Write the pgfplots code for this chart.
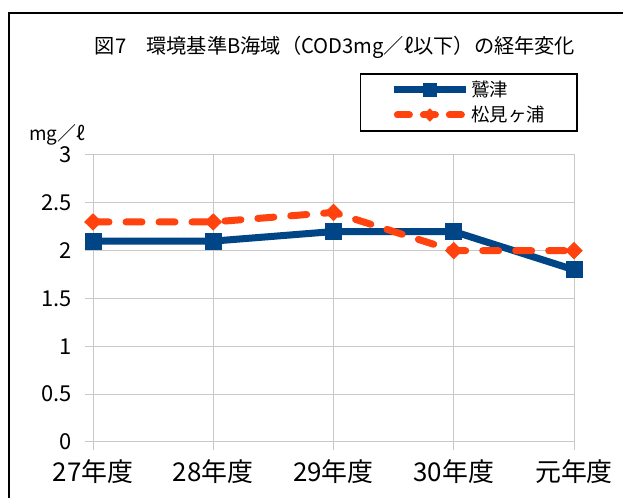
\documentclass[border=0pt]{standalone}
\usepackage{fontspec}
\setmainfont{Noto Sans CJK JP}
\usepackage{pgfplots}
\pgfplotsset{compat=1.18}
\definecolor{cblue}{HTML}{004586}
\definecolor{corange}{HTML}{FF420E}
\definecolor{cgrid}{HTML}{C8C8C8}
\pgfplotsset{
  lineleg/.style={legend image code/.code={\draw[##1, mark repeat=2, mark phase=2, mark options={solid, line width=1bp, scale=0.8}] plot coordinates {(0bp,0bp) (36bp,0bp) (72bp,0bp)};}},
  dashleg/.style={legend image code/.code={\draw[##1, dash pattern=on 12bp off 14bp, dash phase=22.5bp, mark repeat=2, mark phase=2, mark options={solid, line width=1bp, xscale=1.05, yscale=0.75}] plot coordinates {(0bp,0bp) (36bp,0bp) (72bp,0bp)};}},
}
\begin{document}
\begin{tikzpicture}
\useasboundingbox (0bp,0bp) rectangle (623bp,498bp);
\fill[white] (0bp,0bp) rectangle (623bp,498bp);
\draw[black, line width=2bp] (9bp,0bp) -- (9bp,485bp) -- (623bp,485bp);
\begin{axis}[
  at={(93bp,56bp)}, anchor=south west,
  scale only axis, width=481bp, height=287bp,
  xmin=0, xmax=4, ymin=0, ymax=3,
  clip=false,
  xtick={0,1,2,3,4},
  xticklabels={27年度,28年度,29年度,30年度,元年度},
  ytick={0,0.5,1,1.5,2,2.5,3},
  yticklabels={0,0.5,1,1.5,2,2.5,3},
  tick pos=left,
  tick align=outside,
  major tick length=8bp,
  tick style={cgrid, line width=1bp},
  axis line style={cgrid, line width=1bp},
  grid=major,
  grid style={cgrid, line width=1bp},
  yticklabel style={anchor=east, inner sep=0pt, xshift=-13bp, font=\fontsize{22}{22}\selectfont},
  xticklabel style={anchor=north, inner sep=0pt, yshift=-9bp, font=\fontsize{26}{26}\selectfont},
  legend style={at={(1.008,1.285)}, anchor=north east, draw=black, line width=1.5bp,
    font=\fontsize{18.5}{18.5}\selectfont, inner xsep=30bp, inner ysep=5.5bp, row sep=4bp},
  legend cell align=left,
]
\addplot[cblue, line width=7bp, mark=square*, mark size=8bp, mark options={solid, line width=1bp}, lineleg]
  coordinates {(0,2.1)(1,2.1)(2,2.2)(3,2.2)(4,1.8)};
\addlegendentry{鷲津}
\addplot[corange, line width=7bp, line cap=round, dash pattern=on 16bp off 17bp,
  mark=diamond*, mark size=8bp, mark options={solid, line width=1bp, xscale=1.35}, dashleg]
  coordinates {(0,2.3)(1,2.3)(2,2.4)(3,2.0)(4,2.0)};
\addlegendentry{松見ヶ浦}
\end{axis}
\node[font=\fontsize{20.3}{20.3}\selectfont] at (335bp,451bp) {図7　環境基準B海域（COD3mg／ℓ以下）の経年変化};
\node[anchor=west, inner sep=0pt, font=\fontsize{19}{19}\selectfont] at (29bp,363bp) {mg／ℓ};
\end{tikzpicture}
\end{document}
